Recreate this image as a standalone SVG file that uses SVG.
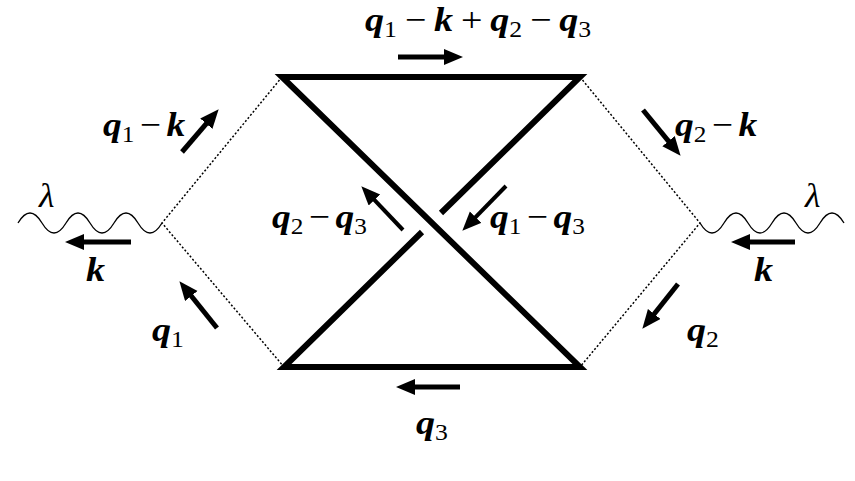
<svg xmlns="http://www.w3.org/2000/svg" width="855" height="481" viewBox="0 0 855 481">
<defs>
<style>
.thick{fill:none;stroke:#000;stroke-width:6;stroke-linejoin:miter;stroke-miterlimit:6}
.dot{fill:none;stroke:#000;stroke-width:1.5;stroke-dasharray:2 2}
.wave{fill:none;stroke:#000;stroke-width:1.3}
.arr{stroke:#000;stroke-width:5;fill:none;marker-end:url(#ah)}
.arr2{stroke:#000;stroke-width:4;fill:none;marker-end:url(#ah)}
text{font-family:"Liberation Serif","Times New Roman",serif;font-size:34px;fill:#000}
.b{font-weight:bold;font-style:italic}
.s{font-size:23px}
.l{font-style:italic;font-size:34px}
</style>
<marker id="ah" markerUnits="userSpaceOnUse" markerWidth="20" markerHeight="18" viewBox="0 0 20 18" refX="8" refY="8" orient="auto">
<path d="M0,0 L19,8 L0,16 Z" fill="#000"/>
</marker>
</defs>
<g id="connectors">
<path class="thick" d="M441,213 L580,77 L282,77 L580,367 L284,367 L422,232"/>
<path class="dot" d="M282,77 L162,223 L284,367"/>
<path class="dot" d="M580,77 L700,223 L580,367"/>
<path class="wave" d="M18,223 q12,-20 24,0 t24,0 t24,0 t24,0 t24,0 t24,0"/>
<path class="wave" d="M700,223 q12,20 24,0 t24,0 t24,0 t24,0 t24,0 t24,0"/>
<line class="arr" x1="398" y1="57" x2="452" y2="57"/>
<line class="arr" x1="460" y1="387" x2="407" y2="387"/>
<line class="arr" x1="131" y1="242" x2="76" y2="242"/>
<line class="arr" x1="795" y1="242" x2="742" y2="242"/>
<line class="arr" x1="182" y1="152" x2="211.5" y2="117.6"/>
<line class="arr" x1="643" y1="110" x2="673.6" y2="147.3"/>
<line class="arr" x1="217" y1="328" x2="186.3" y2="289.8"/>
<line class="arr" x1="678" y1="284" x2="649.2" y2="320.2"/>
<line class="arr2" x1="403" y1="230" x2="368.9" y2="194.2"/>
<line class="arr2" x1="506" y1="186" x2="470" y2="222.9"/>
</g>
<g id="label-top"><text transform="translate(365,31) scale(1.12,1)"><tspan class="b">q</tspan><tspan class="s" dy="6">1</tspan><tspan dy="-6" dx="7">−</tspan><tspan class="b" dx="7">k</tspan><tspan dx="7">+</tspan><tspan class="b" dx="7">q</tspan><tspan class="s" dy="6">2</tspan><tspan dy="-6" dx="7">−</tspan><tspan class="b" dx="7">q</tspan><tspan class="s" dy="6">3</tspan></text></g>
<g id="label-q1k"><text transform="translate(103,136) scale(1.1,1)"><tspan class="b">q</tspan><tspan class="s" dy="6">1</tspan><tspan dy="-6" dx="5">−</tspan><tspan class="b" dx="5">k</tspan></text></g>
<g id="label-q2k"><text transform="translate(675,136) scale(1.1,1)"><tspan class="b">q</tspan><tspan class="s" dy="6">2</tspan><tspan dy="-6" dx="5">−</tspan><tspan class="b" dx="5">k</tspan></text></g>
<g id="label-q2q3"><text transform="translate(272,228) scale(1.1,1)"><tspan class="b">q</tspan><tspan class="s" dy="6">2</tspan><tspan dy="-6" dx="5">−</tspan><tspan class="b" dx="5">q</tspan><tspan class="s" dy="6">3</tspan></text></g>
<g id="label-q1q3"><text transform="translate(490,228) scale(1.1,1)"><tspan class="b">q</tspan><tspan class="s" dy="6">1</tspan><tspan dy="-6" dx="5">−</tspan><tspan class="b" dx="5">q</tspan><tspan class="s" dy="6">3</tspan></text></g>
<g id="label-kL"><text class="b" transform="translate(86,281) scale(1.12,1)">k</text></g>
<g id="label-kR"><text class="b" transform="translate(754,281) scale(1.12,1)">k</text></g>
<g id="label-q1"><text transform="translate(152,341) scale(1.12,1)"><tspan class="b">q</tspan><tspan class="s" dy="6">1</tspan></text></g>
<g id="label-q2"><text transform="translate(687,341) scale(1.12,1)"><tspan class="b">q</tspan><tspan class="s" dy="6">2</tspan></text></g>
<g id="label-q3"><text transform="translate(416,434) scale(1.12,1)"><tspan class="b">q</tspan><tspan class="s" dy="6">3</tspan></text></g>
<g id="label-lamL"><text class="l" transform="translate(39,207) scale(1.05,1)">λ</text></g>
<g id="label-lamR"><text class="l" transform="translate(805,207) scale(1.05,1)">λ</text></g>
</svg>
